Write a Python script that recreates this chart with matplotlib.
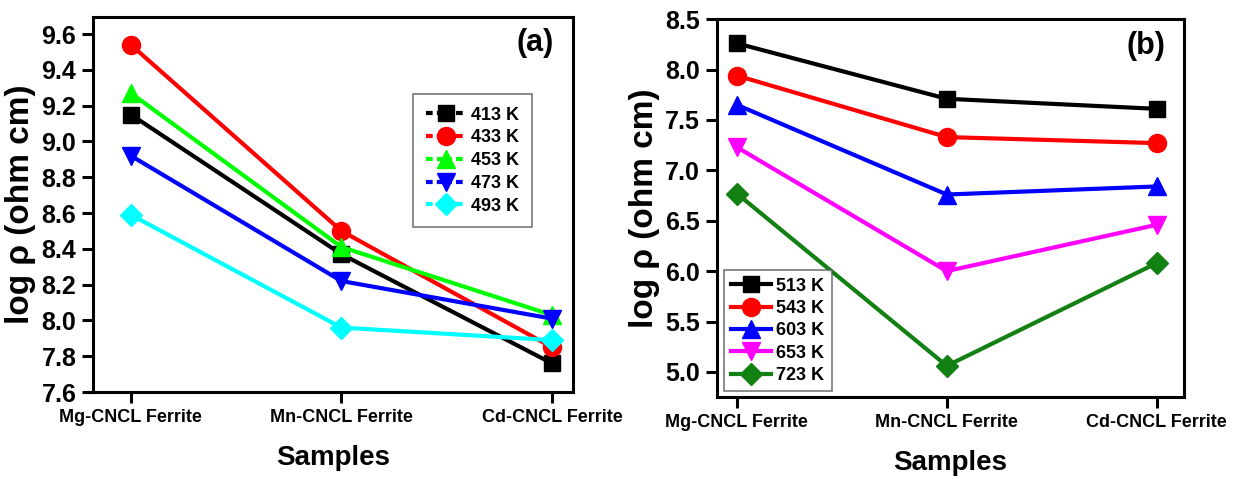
import matplotlib
matplotlib.use("Agg")
import matplotlib.pyplot as plt
from matplotlib.lines import Line2D
import matplotlib.font_manager as fm

samples = ["Mg-CNCL Ferrite", "Mn-CNCL Ferrite", "Cd-CNCL Ferrite"]

labels_a = ["413 K", "433 K", "453 K", "473 K", "493 K"]
k413 = [9.15, 8.37, 7.76]
k433 = [9.54, 8.50, 7.85]
k453 = [9.27, 8.41, 8.03]
k473 = [8.92, 8.22, 8.01]
k493 = [8.59, 7.96, 7.89]

labels_b = ["513 K", "543 K", "603 K", "653 K", "723 K"]
k513 = [8.26, 7.71, 7.61]
k543 = [7.94, 7.33, 7.27]
k603 = [7.65, 6.76, 6.84]
k653 = [7.23, 6.00, 6.46]
k723 = [6.77, 5.06, 6.08]

yticks_a = [7.6, 7.8, 8.0, 8.2, 8.4, 8.6, 8.8, 9.0, 9.2, 9.4, 9.6]
yticks_b = [5.0, 5.5, 6.0, 6.5, 7.0, 7.5, 8.0, 8.5]

names = {f.name for f in fm.fontManager.ttflist}
narrow = "Liberation Sans Narrow" if "Liberation Sans Narrow" in names else "Liberation Sans"
plt.rcParams['font.family'] = ['Liberation Sans', 'DejaVu Sans']
plt.rcParams['font.weight'] = 'bold'

fig = plt.figure(figsize=(12.36, 4.79), dpi=100)
ax1 = fig.add_axes([0.0752, 0.1816, 0.3884, 0.7829])
ax2 = fig.add_axes([0.580, 0.171, 0.378, 0.789])

x = list(range(len(samples)))

def style(ax, yticks, ylim, xlim, tag):
    ax.set_xlim(*xlim)
    ax.set_ylim(*ylim)
    ax.set_xticks(x)
    ax.set_xticklabels(samples, fontsize=13, fontweight='bold', family=[narrow, 'DejaVu Sans'])
    ax.set_yticks(yticks)
    ax.set_yticklabels([f"{v:.1f}" for v in yticks], fontsize=18, fontweight='bold')
    for s in ax.spines.values():
        s.set_linewidth(2.2)
    ax.tick_params(axis='both', direction='out', width=2.2, length=8, pad=4)
    ax.set_xlabel("Samples", fontsize=20, fontweight='bold', labelpad=14)
    ax.set_ylabel("log ρ (ohm cm)", fontsize=24, fontweight='bold', labelpad=4)
    ax.text(0.96, 0.93, tag, transform=ax.transAxes, ha='right', va='center',
            fontsize=22, fontweight='bold')

# Panel (a)
series_a = [k413, k433, k453, k473, k493]
colors_a = ['black', 'red', '#00ff00', 'blue', 'cyan']
markers_a = ['s', 'o', '^', 'v', 'D']
msize_a = [11, 13, 13, 13, 11]
handles_a = []
for ys, c, m, ms, lab in zip(series_a, colors_a, markers_a, msize_a, labels_a):
    ax1.plot(x, ys, color=c, lw=3, marker=m, ms=ms, label=lab)
    handles_a.append(Line2D([], [], color=c, lw=3, marker=m, ms=ms,
                            linestyle=(0, (1.6, 1.0, 3.6, 1.0)), label=lab))
style(ax1, yticks_a, (7.6, 9.695), (-0.18, 2.1), "(a)")
leg1 = ax1.legend(handles=handles_a, loc='upper left', bbox_to_anchor=(0.667, 0.795),
                  borderaxespad=0,
                  prop={'weight': 'bold', 'family': [narrow, 'DejaVu Sans'], 'size': 13},
                  frameon=True, fancybox=False, edgecolor='#555555', handlelength=2.2,
                  handletextpad=0.3, labelspacing=0.32, borderpad=0.7)
leg1.get_frame().set_linewidth(1.2)

# Panel (b)
series_b = [k513, k543, k603, k653, k723]
colors_b = ['black', 'red', 'blue', '#ff00ff', '#138013']
markers_b = ['s', 'o', '^', 'v', 'D']
msize_b = [11, 13, 13, 13, 11]
for ys, c, m, ms, lab in zip(series_b, colors_b, markers_b, msize_b, labels_b):
    ax2.plot(x, ys, color=c, lw=3, marker=m, ms=ms, label=lab)
style(ax2, yticks_b, (4.75, 8.5), (-0.095, 2.13), "(b)")
leg2 = ax2.legend(loc='lower left', bbox_to_anchor=(0.015, 0.015), borderaxespad=0,
                  prop={'weight': 'bold', 'family': [narrow, 'DejaVu Sans'], 'size': 13},
                  frameon=True, fancybox=False, edgecolor='#555555', handlelength=2.2,
                  handletextpad=0.3, labelspacing=0.3, borderpad=0.4)
leg2.get_frame().set_linewidth(1.2)

fig.savefig("out.png", dpi=100)
